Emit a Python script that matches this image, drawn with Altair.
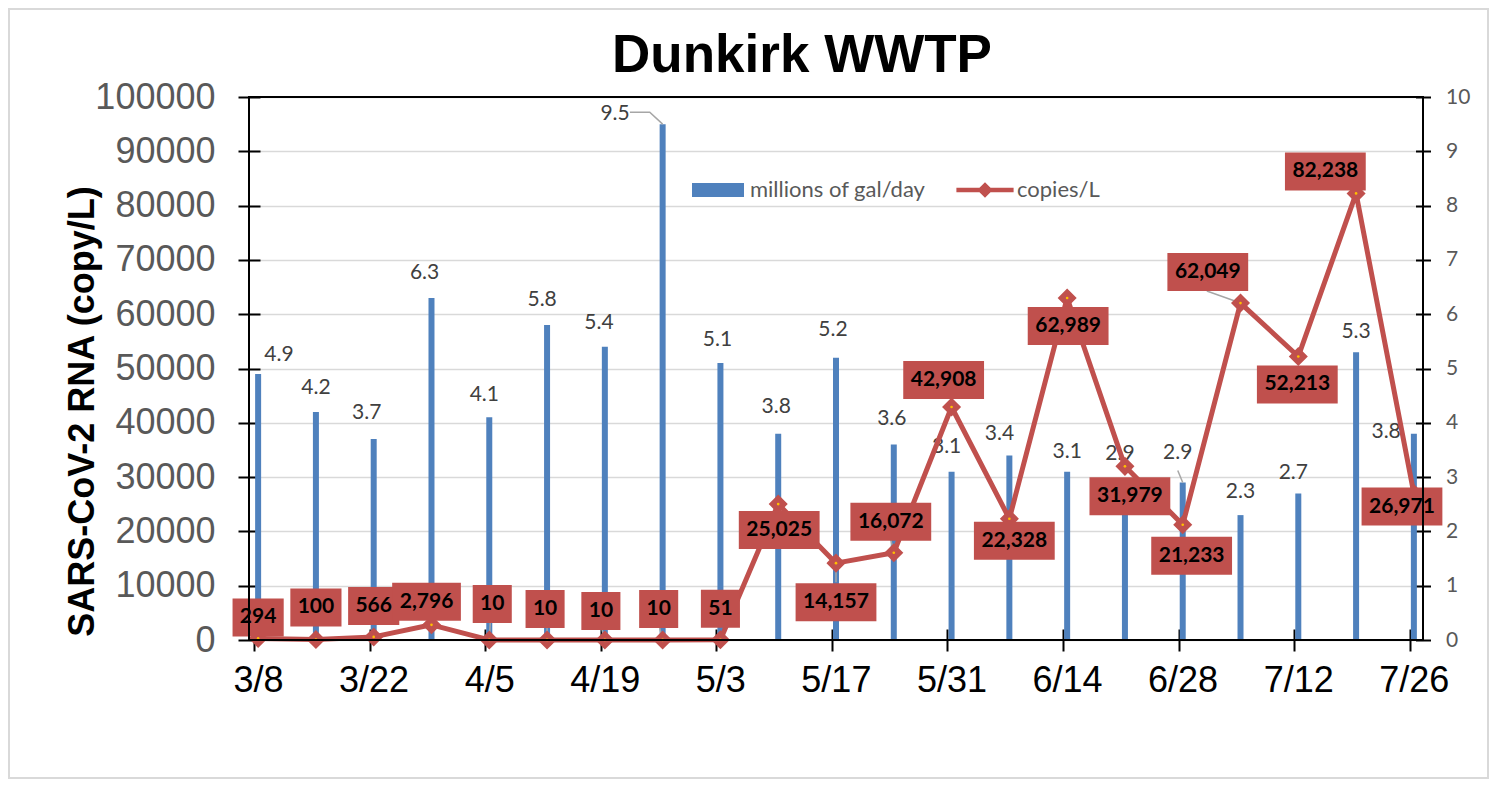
import altair as alt
import pandas as pd

# ---------------- data ----------------
dates = ["3/8", "3/15", "3/22", "3/29", "4/5", "4/12", "4/19", "4/26", "5/3", "5/10",
         "5/17", "5/24", "5/31", "6/7", "6/14", "6/21", "6/28", "7/5", "7/12", "7/19", "7/26"]
flow = [4.9, 4.2, 3.7, 6.3, 4.1, 5.8, 5.4, 9.5, 5.1, 3.8,
        5.2, 3.6, 3.1, 3.4, 3.1, 2.9, 2.9, 2.3, 2.7, 5.3, 3.8]
copies = [294, 100, 566, 2796, 10, 10, 10, 10, 51, 25025,
          14157, 16072, 42908, 22328, 62989, 31979, 21233, 62049, 52213, 82238, 26971]
tick_labels = ["3/8", "3/22", "4/5", "4/19", "5/3", "5/17", "5/31", "6/14", "6/28", "7/12", "7/26"]
series = ["millions of gal/day", "copies/L"]
series_colors = ["#4F81BD", "#C0504D"]

# label placement (pixel offsets from the data point / bar top)
copies_dx = [0, 0, 0, -5, 3, -2, -4, -4, 0, 1, 0, -3, -8, 5, 1, 5, 9, -33, -1, -31, -12]
copies_dy = [-21, -32, -31, -23, -36, -31, -29, -31, -31, 26, 39, -31, -27, 22, 28, 30, 31, -31, 28, -22, 13]
flow_dx = [21, 0, -7, -7, -5, -5, -6, -48, -3, -2, -3, -2, -5, -10, 0, -5, -5, 0, -5, 0, -28]
flow_dy = [-19, -24, -26, -25, -22, -25, -24, -10, -23, -27, -28, -26, -25, -21, -20, -29, -30, -23, -20, -20, -2]

# leader lines: point index -> list of pixel offsets (from the point / bar top)
flow_leaders = {7: [(-33, -12), (-13, -12), (0, 0)], 16: [(-5, -12), (0, 0)]}
copies_leaders = {4: [(1, -17), (0, 0)], 5: [(0, -12), (0, 0)], 6: [(-3, -11), (0, 0)],
                  7: [(-3, -12), (0, 0)], 10: [(0, 19), (0, 0)], 11: [(-3, -13), (0, 0)],
                  17: [(-34, -12), (0, 0)]}

# ---------------- layout ----------------
W, H = 1174, 543
start = pd.Timestamp("2021-03-08")
end = pd.Timestamp("2021-07-27")
NDAYS = (end - start).days
PX_DAY = W / NDAYS
YMAX_L, YMAX_R = 100000, 10
PX_L = H / YMAX_L
PX_R = H / YMAX_R
BOX_H = 38

df = pd.DataFrame({"date": dates, "flow": flow, "copies": copies})
df["day"] = [(pd.Timestamp("2021/" + d) - start).days + 0.5 for d in dates]
df["label"] = [f"{c:,}" for c in copies]
df["lx"] = df["day"] + pd.Series(copies_dx) / PX_DAY
df["ly"] = df["copies"] - pd.Series(copies_dy) / PX_L
digits = df["label"].str.count(r"\d")
commas = df["label"].str.count(",")
half_w = (15 + 12.2 * digits + 5.5 * commas) / 2
df["bx0"] = df["lx"] - half_w / PX_DAY
df["bx1"] = df["lx"] + half_w / PX_DAY
df["by0"] = df["ly"] - (BOX_H / 2) / PX_L
df["by1"] = df["ly"] + (BOX_H / 2) / PX_L
df["fx"] = df["day"] + pd.Series(flow_dx) / PX_DAY
df["fy"] = df["flow"] - pd.Series(flow_dy) / PX_R


def leader_frame(leaders, col, px_y):
    rows = []
    for i, pts in leaders.items():
        for k, (dx, dy) in enumerate(pts):
            rows.append({"gid": i, "k": k,
                         "lx": df["day"][i] + dx / PX_DAY,
                         "ly": df[col][i] - dy / px_y})
    return pd.DataFrame(rows)


flow_lead_df = leader_frame(flow_leaders, "flow", PX_R)
copies_lead_df = leader_frame(copies_leaders, "copies", PX_L)

legend_df = pd.DataFrame({"series": series})

AXIS_FONT = "Liberation Sans"
LABEL_FONT = "Lato"
LEADER = "#A6A6A6"

label_expr = "[" + ",".join(f"'{t}'" for t in tick_labels) + "][round(datum.value/14)]"
x_axis = alt.Axis(values=list(range(0, NDAYS, 14)), labelExpr=label_expr, title=None,
                  grid=False, domain=False, offset=-11, tickSize=22, tickColor="black",
                  tickWidth=2, labelFont=AXIS_FONT, labelFontSize=36, labelColor="black",
                  labelPadding=12, labelOffset=4, labelFlush=False)
x_scale = alt.Scale(domain=[0, NDAYS], nice=False, zero=False)


def X(field):
    return alt.X(f"{field}:Q", scale=x_scale, axis=x_axis)


def X2(field):
    return alt.X2(f"{field}:Q")


yl_scale = alt.Scale(domain=[0, YMAX_L], nice=False)
yl_axis = alt.Axis(values=list(range(0, YMAX_L + 1, 10000)), format="d",
                   title="SARS-CoV-2 RNA (copy/L)", titleFont=AXIS_FONT, titleFontSize=36,
                   titleFontWeight="bold", titleColor="black", titleAngle=270,
                   titleAlign="center", titleBaseline="middle", titleX=-178, titleY=314,
                   grid=True, gridColor="#D9D9D9", gridWidth=1.5, domain=False,
                   offset=-11, tickSize=22, tickColor="black", tickWidth=2,
                   labelFont=AXIS_FONT, labelFontSize=36, labelColor="#595959", labelPadding=23)

yr_scale = alt.Scale(domain=[0, YMAX_R], nice=False)
yr_axis = alt.Axis(orient="right", values=list(range(0, YMAX_R + 1)), title=None, grid=False,
                   domain=False, offset=-7.5, tickSize=15, tickColor="black", tickWidth=2,
                   labelFont=LABEL_FONT, labelFontSize=21, labelColor="#595959", labelPadding=15)


def YL(field):
    return alt.Y(f"{field}:Q", scale=yl_scale, axis=yl_axis)


def YR(field):
    return alt.Y(f"{field}:Q", scale=yr_scale, axis=yr_axis)


base = alt.Chart(df)

# ---- right-axis group: flow bars ----
bars = base.mark_bar(size=6, color=series_colors[0]).encode(x=X("day"), y=YR("flow"))
bar_leaders = alt.Chart(flow_lead_df).mark_line(color=LEADER, strokeWidth=1.5).encode(
    x=X("lx"), y=YR("ly"), detail="gid:N", order="k:Q")
bar_labels = base.mark_text(font=LABEL_FONT, fontSize=21, color="#404040",
                            baseline="middle", align="center").encode(
    x=X("fx"), y=YR("fy"), text=alt.Text("flow:Q", format=".1f"))
right_group = alt.layer(bars, bar_leaders, bar_labels)

# ---- left-axis group: copies line ----
one_row = alt.Chart(legend_df).transform_filter("datum.series == 'copies/L'")
frame = one_row.mark_rect(fill=None, stroke="#D9D9D9", strokeWidth=2).encode(
    x=alt.value(-240), x2=alt.value(1239), y=alt.value(-88), y2=alt.value(681))
plot_border = one_row.mark_rect(fill=None, stroke="black", strokeWidth=2).encode(
    x=alt.value(0), x2=alt.value(W), y=alt.value(0), y2=alt.value(H))
copies_leader_lines = alt.Chart(copies_lead_df).mark_line(color=LEADER, strokeWidth=1.5).encode(
    x=X("lx"), y=YL("ly"), detail="gid:N", order="k:Q")
line = base.mark_line(color=series_colors[1], strokeWidth=5, strokeJoin="round",
                      strokeCap="round").encode(x=X("day"), y=YL("copies"))
diamonds = base.mark_point(shape="diamond", filled=True, size=220, color=series_colors[1],
                           stroke=series_colors[1], strokeWidth=3, opacity=1).encode(
    x=X("day"), y=YL("copies"))
dots = base.mark_point(shape="circle", filled=True, size=7, color="#FFC000", opacity=1).encode(
    x=X("day"), y=YL("copies"))
boxes = base.mark_rect(color=series_colors[1]).encode(
    x=X("bx0"), x2=X2("bx1"), y=YL("by0"), y2=alt.Y2("by1:Q"))
box_text = base.mark_text(font=LABEL_FONT, fontSize=21, fontWeight="bold", color="black",
                          baseline="middle", align="center").encode(
    x=X("lx"), y=YL("ly"), text="label:N")

bar_sym = "M-1,-0.27H1V0.27H-1Z"
line_sym = "M-1.1,-0.09H1.1V0.09H-1.1Z M0,-0.3L0.3,0L0,0.3L-0.3,0Z"
leg = alt.Legend(orient="none", legendX=443, legendY=67, direction="horizontal", title=None,
                 symbolSize=2704, labelFont=LABEL_FONT, labelFontSize=22, labelColor="#595959",
                 labelOffset=6, columnPadding=30, symbolStrokeWidth=0, padding=0, labelLimit=400)
legend_layer = alt.Chart(legend_df).transform_filter("false").mark_point(
    filled=True, opacity=1).encode(
    color=alt.Color("series:N", scale=alt.Scale(domain=series, range=series_colors), legend=leg),
    shape=alt.Shape("series:N", scale=alt.Scale(domain=series, range=[bar_sym, line_sym]),
                    legend=leg))

left_group = alt.layer(frame, copies_leader_lines, line, diamonds, dots, boxes, box_text,
                       plot_border, legend_layer)

chart = alt.layer(right_group, left_group).resolve_scale(y="independent").properties(
    width=W, height=H,
    title=alt.TitleParams("Dunkirk WWTP", font=AXIS_FONT, fontSize=53, fontWeight="bold",
                          color="black", anchor="middle", dx=-34, dy=141, offset=24,
                          baseline="alphabetic", frame="group"),
    autosize=alt.AutoSizeParams(type="none"),
    padding={"left": 241, "top": 89, "right": 66, "bottom": 140},
).configure_view(stroke=None)

chart.save("out.html", embed_options={"renderer": "svg", "actions": False})
